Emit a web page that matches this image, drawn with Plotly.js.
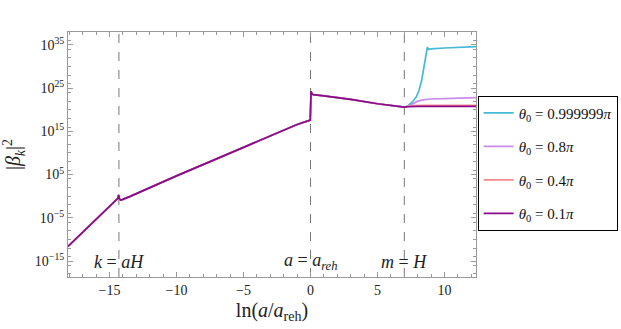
<!DOCTYPE html>
<html>
<head>
<meta charset="utf-8">
<script src="https://cdn.plot.ly/plotly-3.0.1.min.js"></script>
<style>html,body{margin:0;padding:0;background:#fff;}#chart{width:621px;height:329px;}</style>
</head>
<body>
<div id="chart"></div>
<script>
// Values: x = ln(a/a_reh), y stored as log10(|beta_k|^2)
const xCommon   = [-18.1, -18, -17, -16, -15, -14.7, -14.5, -14.38, -14.32, -14.27, -14.18, -14.05, -13.5, -10, -5, -1, -0.02, 0.01, 0.04, 0.1, 0.2, 1, 3, 5, 6.5, 7];
const logCommon = [-11.6, -11.3, -8.3, -5.3, -2.4, -1.5, -0.9, -0.5, 0.3, -0.5, -0.9, -0.8, -0.1, 4.7, 11.3, 16.6, 17.6, 24.0, 24.3, 23.7, 23.5, 23.2, 22.4, 21.4, 20.8, 20.6];

const xCyan   = [7.3, 7.6, 7.9, 8.1, 8.3, 8.45, 8.55, 8.65, 8.72, 8.8, 9.0, 10, 11, 12.35];
const logCyan = [21.0, 21.8, 23.0, 24.5, 26.9, 29.5, 31.8, 33.5, 34.5, 34.0, 34.1, 34.3, 34.45, 34.6];

const xViolet   = [7.3, 7.6, 8.0, 8.5, 9, 10, 12.35];
const logViolet = [20.8, 21.3, 22.0, 22.35, 22.5, 22.6, 22.8];

const xRed   = [7.3, 7.6, 8.5, 10, 12.35];
const logRed = [20.8, 20.95, 21.0, 21.0, 21.0];

const xPurple   = [7.3, 8, 10, 12.35];
const logPurple = [20.7, 20.8, 20.8, 20.8];

const seriesNames = ['<i>θ</i><sub>0</sub> = 0.999999<i>π</i>', '<i>θ</i><sub>0</sub> = 0.8<i>π</i>', '<i>θ</i><sub>0</sub> = 0.4<i>π</i>', '<i>θ</i><sub>0</sub> = 0.1<i>π</i>'];
const seriesColors = ['#45b9d6', '#c78de9', '#f4898b', '#8b0a8b'];
const markerLines = [-14.3, 0, 7];
const markerLabels = ['<i>k</i> = <i>aH</i>', '<i>a</i> = <i>a<sub>reh</sub></i>', '<i>m</i> = <i>H</i>'];
const yTickExp = [-15, -5, 5, 15, 25, 35];

function build(xs, ls) {
  const x = xCommon.concat(xs);
  const y = logCommon.concat(ls).map(v => Math.pow(10, v));
  return {x, y};
}
const parts = [
  build(xCyan, logCyan),
  build(xViolet, logViolet),
  build(xRed, logRed),
  build(xPurple, logPurple)
];
const traces = parts.map((p, i) => ({
  x: p.x, y: p.y, type: 'scatter', mode: 'lines',
  name: seriesNames[i], legendgroup: 'g' + i,
  line: {color: seriesColors[i], width: 1.7}
}));

const minorY = [];
for (let e = -18; e <= 38; e += 2) { if (e % 10 !== 5 && e % 10 !== -5) minorY.push(Math.pow(10, e)); }

const font = 'Liberation Serif, Times New Roman, serif';
const layout = {
  width: 621, height: 329,
  margin: {l: 68, r: 145, t: 32, b: 52, autoexpand: false},
  paper_bgcolor: '#fff', plot_bgcolor: '#fff',
  font: {family: font, size: 14, color: '#222'},
  showlegend: true,
  legend: {x: 1.004, xanchor: 'left', y: 0.74, yanchor: 'top',
           bordercolor: '#000', borderwidth: 1, bgcolor: '#fff',
           font: {family: font, size: 15, color: '#111'},
           tracegroupgap: 11, traceorder: 'grouped', itemwidth: 30},
  xaxis: {range: [-18.1, 12.35], showgrid: false, zeroline: false,
          showline: true, mirror: 'ticks', linecolor: '#9a9a9a', linewidth: 1,
          ticks: 'inside', ticklen: 5, tickcolor: '#9a9a9a', dtick: 5, tick0: 0,
          minor: {ticks: 'inside', ticklen: 3, dtick: 1, tick0: 0, tickcolor: '#9a9a9a', showgrid: false},
          tickfont: {family: font, size: 14, color: '#222'},
          title: {text: 'ln(<i>a</i>/<i>a</i><sub>reh</sub>)', font: {family: font, size: 20, color: '#222'}, standoff: 6}},
  yaxis: {type: 'log', range: [-18.7, 38], showgrid: false, zeroline: false,
          showline: true, mirror: 'ticks', linecolor: '#9a9a9a', linewidth: 1,
          ticks: 'inside', ticklen: 5, tickcolor: '#9a9a9a',
          tickmode: 'array', tickvals: yTickExp.map(e => Math.pow(10, e)),
          ticktext: yTickExp.map(e => '10<sup>' + String(e).replace('-', '−') + '</sup>'),
          minor: {ticks: 'inside', ticklen: 3, tickmode: 'array', tickvals: minorY, tickcolor: '#9a9a9a', showgrid: false},
          tickfont: {family: font, size: 14, color: '#222'},
          title: {text: '|<i>β<sub>k</sub></i>|<sup>2</sup>', font: {family: font, size: 20, color: '#222'}, standoff: 8}},
  shapes: markerLines.map(v => ({type: 'line', xref: 'x', yref: 'paper', x0: v, x1: v, y0: 0, y1: 1,
          line: {color: '#777', width: 1, dash: 'dash'}, layer: 'below'})),
  annotations: markerLines.map((v, i) => ({x: v, xref: 'x', y: 0.062, yref: 'paper', text: markerLabels[i],
          showarrow: false, xanchor: 'center', yanchor: 'middle',
          font: {family: font, size: 18, color: '#222'}}))
};
Plotly.newPlot('chart', traces, layout, {displayModeBar: false, staticPlot: true});
</script>
</body>
</html>
